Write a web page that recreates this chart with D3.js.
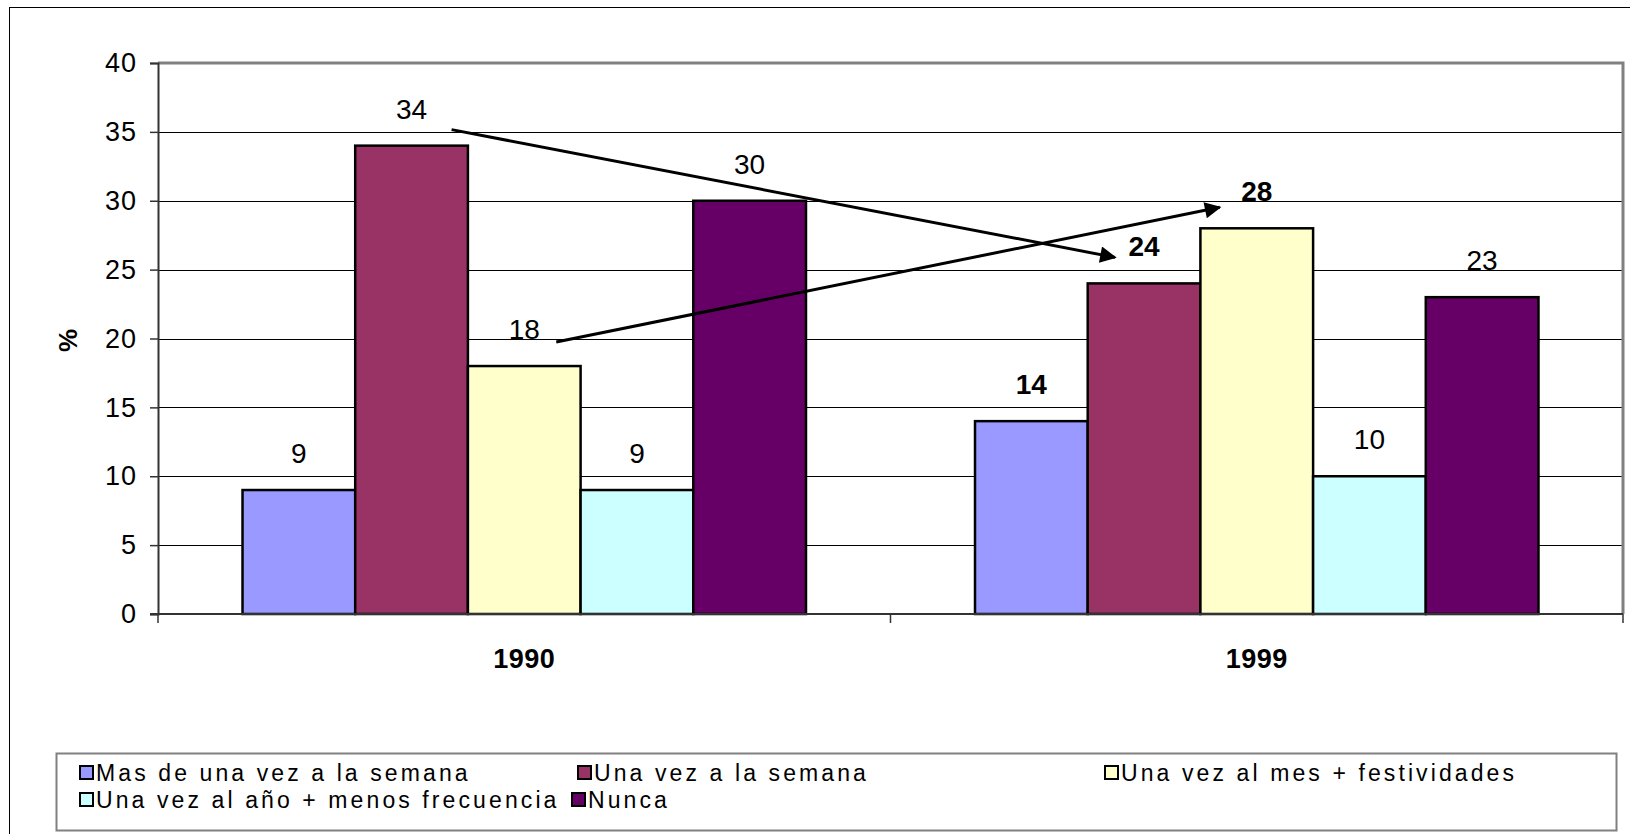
<!DOCTYPE html>
<html>
<head>
<meta charset="utf-8">
<script src="https://cdn.jsdelivr.net/npm/d3@7"></script>
<style>
  html, body { margin: 0; padding: 0; background: #fff; }
  svg { display: block; font-family: "Liberation Sans", Arial, sans-serif; }
</style>
</head>
<body>
<svg id="chart" width="1630" height="834"></svg>
<script>
// ---- data ----
const categories = ["1990", "1999"];
const seriesNames = [
  "Mas de una vez a la semana",
  "Una vez a la semana",
  "Una vez al mes + festividades",
  "Una vez al año + menos frecuencia",
  "Nunca"
];
const values1990 = [9, 34, 18, 9, 30];
const values1999 = [14, 24, 28, 10, 23];
const seriesColors = ["#9999FF", "#993366", "#FFFFCC", "#CCFFFF", "#660066"];
const boldLabels1990 = [false, false, false, false, false];
const boldLabels1999 = [true, true, true, false, false];
const yTicks = [0, 5, 10, 15, 20, 25, 30, 35, 40];
const yAxisTitle = "%";
// arrows: from (series, category) label to (series, category) label
const arrows = [
  { series: 1, from: "1990", to: "1999" },
  { series: 2, from: "1990", to: "1999" }
];

const valuesByCat = { "1990": values1990, "1999": values1999 };
const boldByCat = { "1990": boldLabels1990, "1999": boldLabels1999 };

// ---- layout ----
const svg = d3.select("#chart");
const plot = { left: 158, right: 1623, top: 63, bottom: 614 };

// outer chart border
svg.append("rect").attr("x", 9.5).attr("y", 7.5).attr("width", 1700).attr("height", 900)
  .attr("fill", "#fff").attr("stroke", "#000").attr("stroke-width", 1);

const x0 = d3.scaleBand().domain(categories).range([plot.left, plot.right]).paddingInner(0).paddingOuter(0);
const x1 = d3.scaleBand().domain(d3.range(seriesNames.length)).range([0, x0.bandwidth()])
  .paddingInner(0).paddingOuter(0.75);
const y = d3.scaleLinear().domain([0, 40]).range([plot.bottom, plot.top]);

// gridlines
svg.append("g").selectAll("line").data(yTicks.filter(t => t > 0)).join("line")
  .attr("x1", plot.left).attr("x2", plot.right)
  .attr("y1", d => Math.round(y(d)) + 0.5).attr("y2", d => Math.round(y(d)) + 0.5)
  .attr("stroke", "#000").attr("stroke-width", 1);

// plot border (top/right gray)
svg.append("path")
  .attr("d", `M${plot.left},${plot.top} H${plot.right} V${plot.bottom}`)
  .attr("fill", "none").attr("stroke", "#808080").attr("stroke-width", 3);

// bars
const rows = [];
categories.forEach(c => valuesByCat[c].forEach((v, i) => rows.push({ cat: c, i, v, bold: boldByCat[c][i] })));

svg.append("g").selectAll("rect").data(rows).join("rect")
  .attr("x", d => x0(d.cat) + x1(d.i))
  .attr("y", d => y(d.v))
  .attr("width", x1.bandwidth())
  .attr("height", d => y(0) - y(d.v))
  .attr("fill", d => seriesColors[d.i])
  .attr("stroke", "#000").attr("stroke-width", 2.5);

// y axis
const yAxis = d3.axisLeft(y).tickValues(yTicks).tickSize(8).tickPadding(13);
const gy = svg.append("g").attr("transform", `translate(${plot.left},0)`).call(yAxis);
gy.select(".domain").attr("stroke", "#333").attr("stroke-width", 2);
gy.selectAll(".tick line").attr("stroke", "#333").attr("stroke-width", 1.5);
gy.selectAll(".tick text").attr("font-size", 27).attr("fill", "#000")
  .attr("font-family", '"Liberation Sans", Arial, sans-serif').attr("letter-spacing", 1);

// x axis line + ticks between categories
const xTickPos = [plot.left, ...categories.map(c => x0(c) + x0.bandwidth())];
svg.append("line").attr("x1", plot.left - 8).attr("x2", plot.right)
  .attr("y1", plot.bottom).attr("y2", plot.bottom)
  .attr("stroke", "#333").attr("stroke-width", 2);
svg.append("g").selectAll("line").data(xTickPos).join("line")
  .attr("x1", d => d).attr("x2", d => d)
  .attr("y1", plot.bottom).attr("y2", plot.bottom + 9)
  .attr("stroke", "#333").attr("stroke-width", 1.5);

// category labels
svg.append("g").selectAll("text").data(categories).join("text")
  .attr("x", d => x0(d) + x0.bandwidth() / 2)
  .attr("y", 668)
  .attr("text-anchor", "middle")
  .attr("font-size", 27).attr("font-weight", "bold").attr("letter-spacing", 0.5)
  .text(d => d);

// y axis title
svg.append("text")
  .attr("transform", `translate(77,${(plot.top + plot.bottom) / 2 + 2}) rotate(-90)`)
  .attr("text-anchor", "middle")
  .attr("font-size", 26).attr("font-weight", "bold")
  .text(yAxisTitle);

// data labels
svg.append("g").selectAll("text").data(rows).join("text")
  .attr("x", d => x0(d.cat) + x1(d.i) + x1.bandwidth() / 2)
  .attr("y", d => y(d.v) - 27)
  .attr("text-anchor", "middle")
  .attr("font-size", 28)
  .attr("font-weight", d => d.bold ? "bold" : "normal")
  .text(d => d.v);

// arrows
const defs = svg.append("defs");
defs.append("marker").attr("id", "arrowhead")
  .attr("viewBox", "0 0 10 10").attr("refX", 9).attr("refY", 5)
  .attr("markerWidth", 7).attr("markerHeight", 5.5).attr("orient", "auto")
  .attr("markerUnits", "strokeWidth")
  .append("path").attr("d", "M0,0 L10,5 L0,10 Z").attr("fill", "#000");

const labelCenter = (cat, i) => ({
  x: x0(cat) + x1(i) + x1.bandwidth() / 2,
  y: y(valuesByCat[cat][i])
});
const arrowSegs = arrows.map((a, k) => {
  const s = labelCenter(a.from, a.series), e = labelCenter(a.to, a.series);
  // start to the right of the source label, end to the left of the target label
  const start = k === 0 ? { x: s.x + 40, y: s.y - 16 } : { x: s.x + 32, y: s.y - 24 };
  const end = k === 0 ? { x: e.x - 29, y: e.y - 26 } : { x: e.x - 37, y: e.y - 21 };
  return { start, end };
});
svg.append("g").selectAll("line").data(arrowSegs).join("line")
  .attr("x1", d => d.start.x).attr("y1", d => d.start.y)
  .attr("x2", d => d.end.x).attr("y2", d => d.end.y)
  .attr("stroke", "#000").attr("stroke-width", 3)
  .attr("marker-end", "url(#arrowhead)");

// legend
const legend = { x: 56, y: 753, w: 1560, h: 77 };
svg.append("rect").attr("x", legend.x + 0.5).attr("y", legend.y + 0.5)
  .attr("width", legend.w).attr("height", legend.h)
  .attr("fill", "#fff").attr("stroke", "#808080").attr("stroke-width", 2);
const legendCols = [80, 578, 1105];
const legendRows = [773, 800];
const legendItems = seriesNames.map((name, i) => ({
  name, i,
  col: i < 3 ? i : i - 3,
  row: i < 3 ? 0 : 1
}));
const lg = svg.append("g").selectAll("g").data(legendItems).join("g")
  .attr("transform", d => `translate(${legendCols[d.col] - (d.row === 1 && d.col === 1 ? 6 : 0)},${legendRows[d.row]})`);
lg.append("rect").attr("x", 0).attr("y", -7).attr("width", 13).attr("height", 13)
  .attr("fill", d => seriesColors[d.i]).attr("stroke", "#000").attr("stroke-width", 2);
lg.append("text").attr("x", 16).attr("y", 8)
  .attr("font-size", 23).attr("letter-spacing", 3.1)
  .text(d => d.name);
</script>
</body>
</html>
